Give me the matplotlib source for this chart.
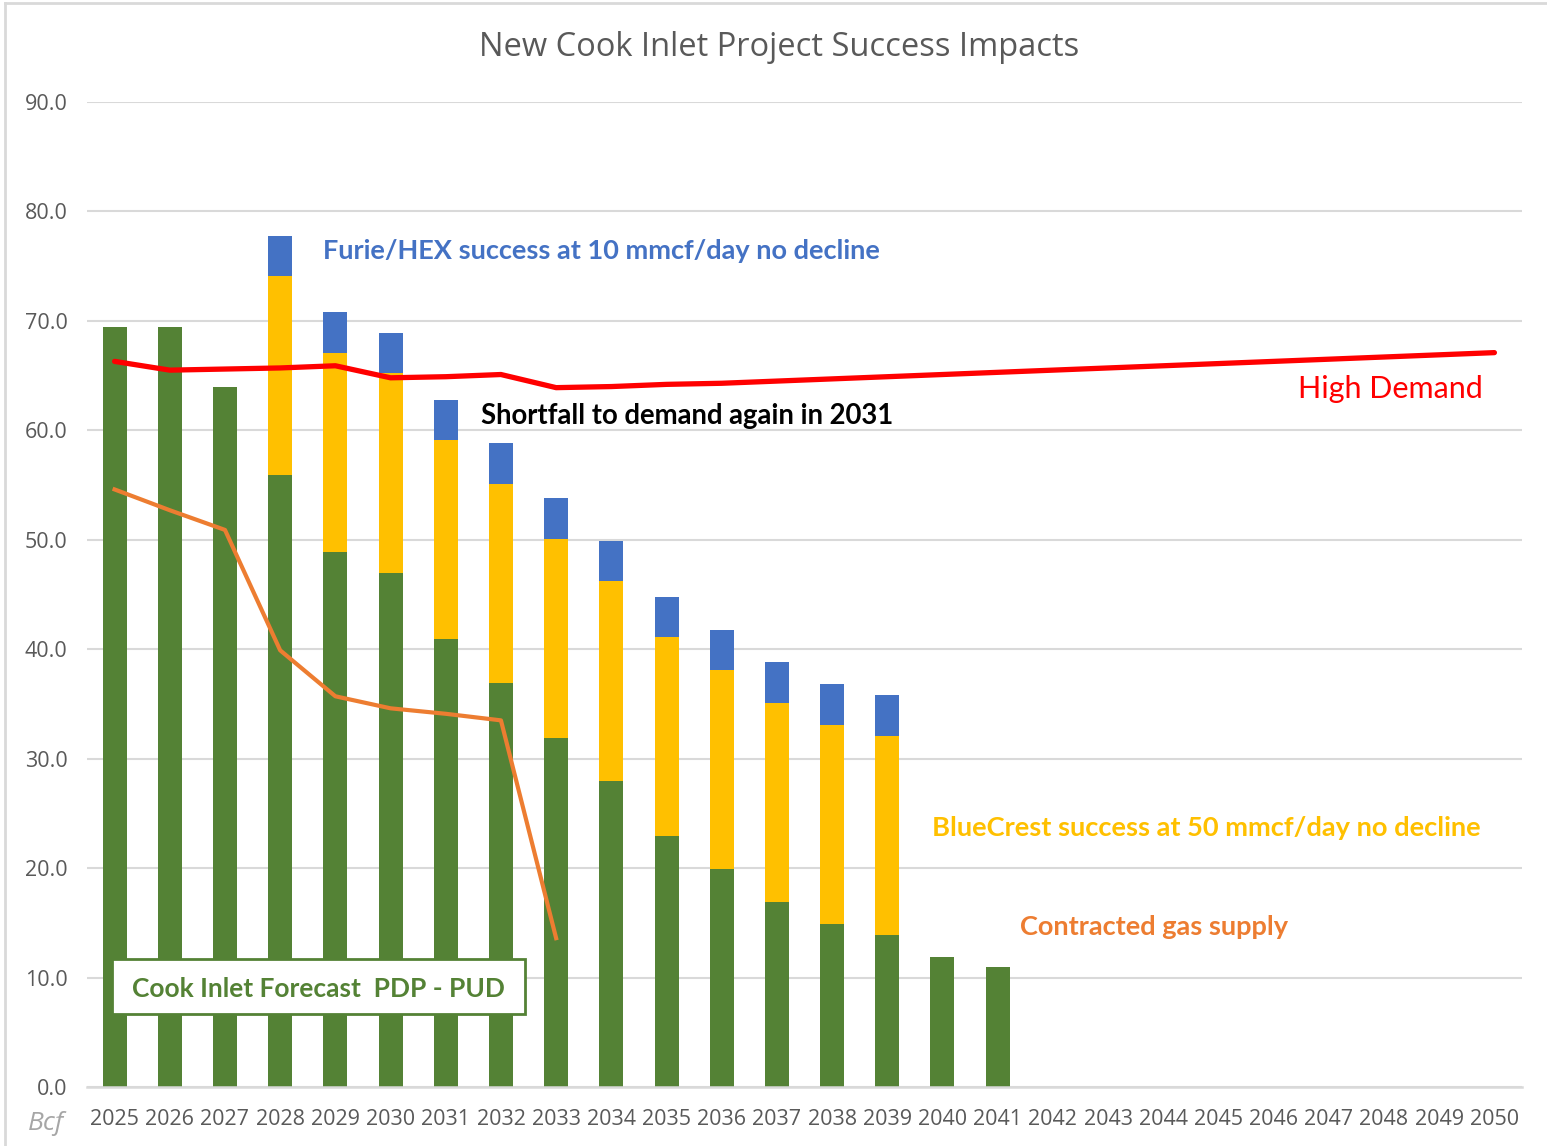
import matplotlib
matplotlib.use("Agg")
import matplotlib.pyplot as plt
from matplotlib.patches import Rectangle
from matplotlib.lines import Line2D
import numpy as np

years = [str(y) for y in range(2025, 2051)]
pdp = [69.4, 69.4, 64.0, 55.9, 48.9, 47.0, 40.9, 36.9, 31.9, 28.0, 22.9, 19.9,
       16.9, 14.9, 13.9, 11.9, 11.0]
bluecrest = [0, 0, 0, 18.2, 18.2, 18.2, 18.2, 18.2, 18.2, 18.2, 18.2, 18.2,
             18.2, 18.2, 18.2]
furie = [0, 0, 0, 3.7, 3.7, 3.7, 3.7, 3.7, 3.7, 3.7, 3.7, 3.7, 3.7, 3.7, 3.7]
high_demand = [66.3, 65.5, 65.6, 65.7, 65.9, 64.8, 64.9, 65.1, 63.9, 64.0, 64.2,
               64.3, 64.5, 64.7, 64.9, 65.1, 65.3, 65.5, 65.7, 65.9, 66.1, 66.3,
               66.5, 66.7, 66.9, 67.1]
contracted = [54.6, 52.7, 50.9, 39.9, 35.7, 34.6, 34.1, 33.5, 13.6]

GREEN = "#548235"
YELLOW = "#FFC000"
BLUE = "#4472C4"
RED = "#FF0000"
ORANGE = "#ED7D31"
GRID = "#D9D9D9"
TXT = "#595959"

plt.rcParams["font.family"] = ["Open Sans", "DejaVu Sans"]

fig = plt.figure(figsize=(15.47, 11.46), dpi=100)
ax = fig.add_axes([87/1547, 1-1087/1146, (1522-87)/1547, (1087-102)/1146])

x = np.arange(len(years))
w = 0.435
xp = x[:len(pdp)]
ax.bar(xp, pdp, width=w, color=GREEN, zorder=2)
xb = x[:len(bluecrest)]
pdp_b = np.array(pdp[:len(bluecrest)])
bc = np.array(bluecrest)
ax.bar(xb, bc, width=w, bottom=pdp_b, color=YELLOW, zorder=2)
fu = np.array(furie)
ax.bar(x[:len(furie)], fu, width=w, bottom=pdp_b + bc, color=BLUE, zorder=2)

ax.plot(x, high_demand, color=RED, lw=3.8, zorder=3, solid_capstyle="round")
ax.plot(x[:len(contracted)], contracted, color=ORANGE, lw=3.0, zorder=3)

ax.set_xlim(-0.5, len(years) - 0.5)
ax.set_ylim(0, 90)
ax.set_yticks(np.arange(0, 91, 10))
ax.set_yticklabels([f"{v:.1f}" for v in np.arange(0, 91, 10)])
ax.set_xticks(x)
ax.set_xticklabels(years)
ax.yaxis.grid(True, color=GRID, lw=1.5, zorder=0)
ax.set_axisbelow(True)
for s in ["top", "right", "left"]:
    ax.spines[s].set_visible(False)
ax.spines["bottom"].set_color(GRID)
ax.spines["bottom"].set_linewidth(1.8)
ax.tick_params(axis="both", length=0, labelcolor=TXT)
ax.tick_params(axis="y", pad=14, labelsize=15.5)
ax.tick_params(axis="x", pad=16, labelsize=15.5)

fig.text(779/1547, 1-48/1146, "New Cook Inlet Project Success Impacts",
         ha="center", va="center", fontsize=23.5, color=TXT)
fig.text(46/1547, 1-1123/1146, "Bcf", ha="center", va="center", fontsize=19,
         color="#A6A6A6", style="italic")

bold = dict(fontweight="bold", family=["Lato", "DejaVu Sans"])
ax.text(3.78, 76.4, "Furie/HEX success at 10 mmcf/day no decline", color=BLUE,
        fontsize=19.5, ha="left", va="center", **bold)
ax.text(6.64, 61.3, "Shortfall to demand again in 2031", color="black",
        fontsize=19.8, ha="left", va="center", **bold)
ax.text(24.8, 63.8, "High Demand", color=RED, fontsize=22, ha="right",
        va="center", family=["Lato", "DejaVu Sans"])
ax.text(14.81, 23.7, "BlueCrest success at 50 mmcf/day no decline", color=YELLOW,
        fontsize=19.6, ha="left", va="center", **bold)
ax.text(16.4, 14.6, "Contracted gas supply", color=ORANGE,
        fontsize=19.5, ha="left", va="center", **bold)

rx0 = (112-87)/55.2 - 0.5
rx1 = (525-87)/55.2 - 0.5
ry0 = (1087-1014)/10.944
ry1 = (1087-959)/10.944
ax.add_patch(Rectangle((rx0, ry0), rx1-rx0, ry1-ry0, facecolor="white",
                       edgecolor=GREEN, lw=2, zorder=4))
ax.text((rx0+rx1)/2, (ry0+ry1)/2 - 0.2, "Cook Inlet Forecast  PDP - PUD", color=GREEN,
        fontsize=19, ha="center", va="center", zorder=5, **bold)

# figure frame
fig.add_artist(Line2D([5/1547, 5/1547], [0, 1-3/1146], color=GRID, lw=2,
                      transform=fig.transFigure))
fig.add_artist(Line2D([5/1547, 1], [1-3/1146, 1-3/1146], color=GRID, lw=2,
                      transform=fig.transFigure))

fig.savefig("out.png", dpi=100, facecolor="white")
